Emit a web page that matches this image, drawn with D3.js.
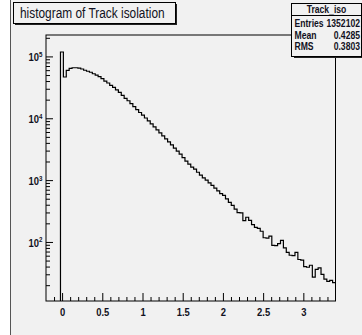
<!DOCTYPE html>
<html lang="en">
<head>
  <meta charset="UTF-8"/>
  <title>Track isolation</title>
  <script src="https://d3js.org/d3.v7.min.js"></script>
  <style>
    body { margin: 0; background: #ffffff; }
    svg { display: block; }
    text { font-family: 'Liberation Sans', Arial, Helvetica, sans-serif; }
  </style>
</head>
<body>
<div id="container"><svg></svg></div>
<script>
// histogram: 100 bins from -0.2 to 3.4
const xMin = -0.2
const xMax = 3.4
const counts = [
  0, 0, 0, 0, 0,
  117800, 46500, 59400, 64000, 65600, 65600, 64900, 62600, 59800, 57600,
  55500, 52500, 49700, 47000, 43600, 39900, 37200, 34000, 31500, 28800,
  26200, 23500, 21000, 19200, 17200, 15400, 13800, 12400, 11200, 10100,
  9050, 8100, 7250, 6480, 5800, 5180, 4640, 4150, 3700, 3300,
  2950, 2640, 2310, 2030, 1810, 1620, 1500, 1340, 1200, 1090,
  1000, 905, 825, 740, 672, 605, 565, 498, 437, 390,
  340, 298, 296, 222, 251, 224, 191, 172, 166, 149,
  117, 115, 124, 88, 87, 94, 106, 80, 68, 61,
  60, 68, 52, 51, 40, 39, 42, 27, 36, 38,
  30, 25, 23, 24, 22
]
const xMajorTicks = [0, 0.5, 1, 1.5, 2, 2.5, 3]
const xMinorTicks = [-0.1, 0.1, 0.2, 0.3, 0.4, 0.6, 0.7, 0.8, 0.9, 1.1, 1.2, 1.3, 1.4,
  1.6, 1.7, 1.8, 1.9, 2.1, 2.2, 2.3, 2.4, 2.6, 2.7, 2.8, 2.9, 3.1, 3.2, 3.3]
const yMajorTicks = [100, 1000, 10000, 100000]
const yExponents = ['2', '3', '4', '5']
const yMinorTicks = [20, 30, 40, 50, 60, 70, 80, 90,
  200, 300, 400, 500, 600, 700, 800, 900,
  2000, 3000, 4000, 5000, 6000, 7000, 8000, 9000,
  20000, 30000, 40000, 50000, 60000, 70000, 80000, 90000, 200000]
const yDomain = [11.1, 222000]
const title = 'histogram of Track isolation'
const statsName = 'Track_iso'
const statsLabels = ['Entries', 'Mean', 'RMS']
const statsValues = ['1352102', '0.4285', '0.3803']

const W = 362, H = 335
const plotL = 46, plotR = 335.5, plotT = 35, plotB = 301
const bg = '#f1f1f1'
const ink = '#111122'
const sx = 0.82   // condensed look of the ROOT font

const svg = d3.select('svg').attr('width', W).attr('height', H)

// text squeezed horizontally, placed at (px, py)
function narrow(sel, px, py) {
  return sel.attr('x', px / sx).attr('y', py).attr('transform', `scale(${sx},1)`)
}

// canvas
svg.append('rect').attr('x', 10).attr('y', 0).attr('width', W - 10).attr('height', H).attr('fill', bg)
svg.append('line').attr('x1', 10.5).attr('x2', 10.5).attr('y1', 0).attr('y2', H)
  .attr('stroke', '#555').attr('stroke-width', 1)

const x = d3.scaleLinear().domain([xMin, xMax]).range([plotL, plotR])
const y = d3.scaleLog().domain(yDomain).range([plotB, plotT]).clamp(true)

const nBins = counts.length
const binW = (xMax - xMin) / nBins

// step outline, starting at first filled bin
const first = counts.findIndex(c => c > 0)
const pts = [[xMin + first * binW, yDomain[0]]]
for (let k = first; k < nBins; k++) pts.push([xMin + k * binW, counts[k]])
pts.push([xMax, counts[nBins - 1]])

const line = d3.line()
  .x(d => x(d[0]))
  .y(d => y(Math.max(d[1], yDomain[0])))
  .curve(d3.curveStepAfter)

svg.append('path')
  .attr('d', line(pts))
  .attr('fill', 'none')
  .attr('stroke', '#000')
  .attr('stroke-width', 1.2)

// axes, ticks pointing inward
const xAxis = svg.append('g').attr('transform', `translate(0, ${plotB})`)
  .call(d3.axisBottom(x).tickValues(xMajorTicks).tickSize(-8).tickPadding(7)
    .tickFormat(d => d3.format('~g')(d)))
svg.append('g').attr('transform', `translate(0, ${plotB})`)
  .call(d3.axisBottom(x).tickValues(xMinorTicks).tickSize(-4).tickFormat(''))

svg.append('g').attr('transform', `translate(${plotL}, 0)`)
  .call(d3.axisLeft(y).tickValues(yMajorTicks).tickSize(-7).tickFormat(''))
svg.append('g').attr('transform', `translate(${plotL}, 0)`)
  .call(d3.axisLeft(y).tickValues(yMinorTicks).tickSize(-4).tickFormat(''))

svg.selectAll('.domain').remove()
svg.selectAll('.tick line').attr('stroke', '#000')
xAxis.selectAll('text')
  .attr('font-family', "'Liberation Sans', Arial, sans-serif")
  .attr('font-size', 11.5)
  .attr('font-weight', 'bold')
  .attr('fill', ink)
  .attr('transform', `scale(${sx},1)`)

// y labels 10^n
yMajorTicks.forEach((v, i) => {
  const t = narrow(svg.append('text'), 42.5, y(v) + 5)
    .attr('text-anchor', 'end')
    .attr('font-weight', 'bold')
    .attr('fill', ink)
    .attr('font-size', 11.5)
  t.append('tspan').text('10')
  t.append('tspan').attr('dy', -4.5).attr('font-size', 7.5).text(yExponents[i])
})

// frame
svg.append('rect')
  .attr('x', plotL).attr('y', plotT)
  .attr('width', plotR - plotL).attr('height', plotB - plotT)
  .attr('fill', 'none').attr('stroke', '#000').attr('stroke-width', 1)

// title box
svg.append('rect').attr('x', 15).attr('y', 4).attr('width', 162).attr('height', 21).attr('fill', '#222')
svg.append('rect').attr('x', 13.5).attr('y', 2.5).attr('width', 162).attr('height', 21)
  .attr('fill', bg).attr('stroke', '#000').attr('stroke-width', 1)
narrow(svg.append('text'), 20, 18.5)
  .attr('font-size', 14.5)
  .attr('fill', ink)
  .text(title)

// stats box
svg.append('rect').attr('x', 294).attr('y', 5).attr('width', 70).attr('height', 53).attr('fill', '#222')
svg.append('rect').attr('x', 291.5).attr('y', 3.5).attr('width', 70).attr('height', 53)
  .attr('fill', bg).attr('stroke', '#000').attr('stroke-width', 1)
svg.append('line').attr('x1', 291.5).attr('x2', 361.5).attr('y1', 15.5).attr('y2', 15.5)
  .attr('stroke', '#000')
narrow(svg.append('text'), 326.5, 13.5)
  .attr('text-anchor', 'middle')
  .attr('font-size', 10.5).attr('font-weight', 'bold').attr('fill', ink)
  .text(statsName)

statsLabels.forEach((lab, i) => {
  const yy = 27.5 + i * 11.4
  narrow(svg.append('text'), 294.5, yy)
    .attr('font-size', 10.5).attr('font-weight', 'bold').attr('fill', ink)
    .text(lab)
  narrow(svg.append('text'), 360, yy)
    .attr('text-anchor', 'end')
    .attr('font-size', 10.5).attr('font-weight', 'bold').attr('fill', ink)
    .text(statsValues[i])
})
</script>
</body>
</html>
